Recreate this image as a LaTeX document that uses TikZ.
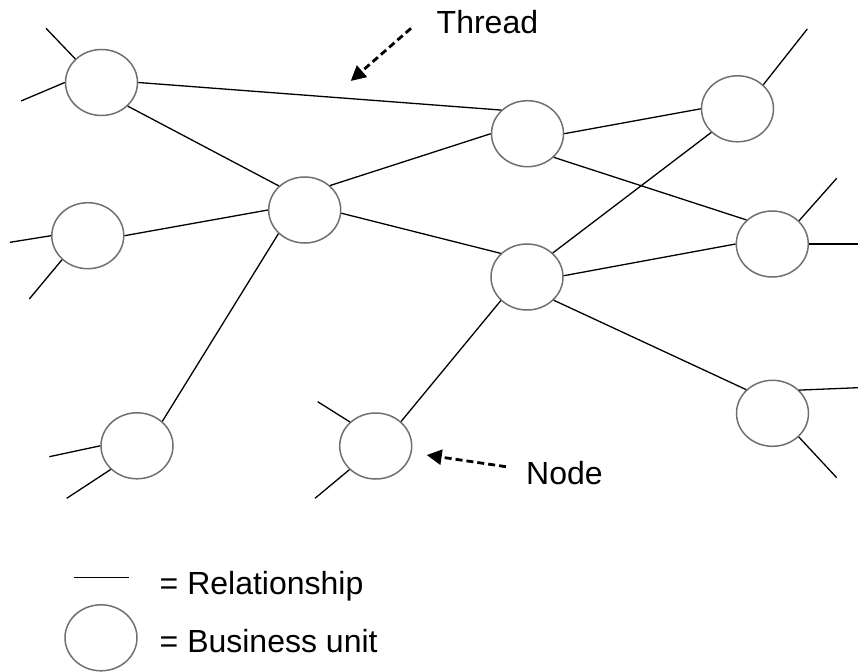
\documentclass[tikz,border=0pt]{standalone}
\usepackage{fontspec}
\setmainfont{Liberation Sans}
\usetikzlibrary{shapes.geometric,arrows.meta}
\definecolor{unitgray}{HTML}{707070}
\tikzset{
  unit/.style={ellipse, draw=unitgray, line width=1.5pt, fill=white,
    minimum width=72pt, minimum height=66pt, inner sep=0pt},
  rel/.style={line width=1.3pt, black},
  pointer/.style={line width=2.8pt, dash pattern=on 7pt off 4pt,
    -{Triangle[length=15pt,width=15pt]}},
  label/.style={anchor=base west, inner sep=0pt, font=\fontsize{32}{37}\selectfont}
}
\begin{document}
\begin{tikzpicture}[x=1pt,y=-1pt]
\useasboundingbox (0,0) rectangle (858,671);

% business units
\node[unit] (A) at (101.5,82.5) {};
\node[unit] (B) at (527.5,133.7) {};
\node[unit] (C) at (737.5,108.8) {};
\node[unit] (D) at (304.7,210) {};
\node[unit] (E) at (87.8,235.7) {};
\node[unit] (F) at (772.3,244) {};
\node[unit] (G) at (527,277) {};
\node[unit] (H) at (137,445.8) {};
\node[unit] (I) at (375.7,446) {};
\node[unit] (J) at (772.5,413.3) {};

% loose ends of relationships
\coordinate (a1) at (46,28.3);
\coordinate (a2) at (21,101);
\coordinate (c1) at (807.3,29);
\coordinate (e1) at (10,242.3);
\coordinate (e2) at (29.3,299);
\coordinate (f1) at (836.7,178.3);
\coordinate (f2) at (858,244);
\coordinate (h1) at (49.3,456.7);
\coordinate (h2) at (66.7,498.3);
\coordinate (i1) at (317.7,401.7);
\coordinate (i2) at (315,498.3);
\coordinate (j1) at (858,387.7);
\coordinate (j2) at (836.7,477.7);

% relationships between units
\draw[rel] (A.0) -- (B.138);
\draw[rel] (A.-42) -- (D.137);
\draw[rel] (D.44) -- (B.180);
\draw[rel] (D.180) -- (E.0);
\draw[rel] (D.-5) -- (G.138);
\draw[rel] (D.222) -- (H.44);
\draw[rel] (B.0) -- (C.180);
\draw[rel] (B.-42) -- (F.137);
\draw[rel] (G.43) -- (C.222);
\draw[rel] (G.2) -- (F.180);
\draw[rel] (G.222) -- (I.44);
\draw[rel] (G.-41) -- (J.138);

% loose relationships
\draw[rel] (A.138) -- (a1);
\draw[rel] (A.180) -- (a2);
\draw[rel] (C.43) -- (c1);
\draw[rel] (E.180) -- (e1);
\draw[rel] (E.223) -- (e2);
\draw[rel] (F.41) -- (f1);
\draw[rel] (F.0) -- (f2);
\draw[rel] (H.180) -- (h1);
\draw[rel] (H.222) -- (h2);
\draw[rel] (I.137) -- (i1);
\draw[rel] (I.222) -- (i2);
\draw[rel] (J.41) -- (j1);
\draw[rel] (J.-42) -- (j2);

% callouts
\coordinate (threadtail) at (411,28.3);
\coordinate (threadtip) at (350.7,81);
\draw[pointer] (threadtail) -- (threadtip);
\node[label] (threadtxt) at (436.5,33.3) {Thread};

\coordinate (nodetail) at (506,466.7);
\coordinate (nodetip) at (426.7,455);
\draw[pointer] (nodetail) -- (nodetip);
\node[label] (nodetxt) at (526,484.3) {Node};

% legend
\coordinate (l1) at (74,577.7);
\coordinate (l2) at (129,577.7);
\draw[rel] (l1) -- (l2);
\node[label] (reltxt) at (159.5,594) {= Relationship};
\node[unit] (K) at (101,637.8) {};
\node[label] (unittxt) at (159.5,652.3) {= Business unit};
\end{tikzpicture}
\end{document}
